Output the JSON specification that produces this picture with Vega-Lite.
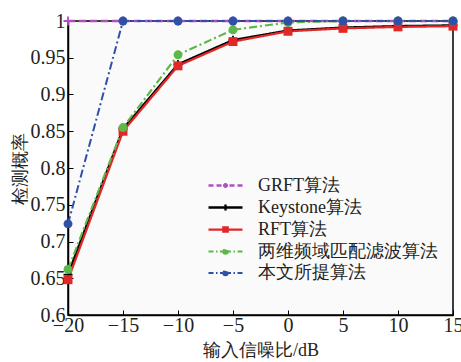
{
  "$schema": "https://vega.github.io/schema/vega-lite/v6.json",
  "width": 385,
  "height": 294,
  "autosize": "none",
  "padding": {"left": 68, "top": 21, "right": 8, "bottom": 47},
  "background": "white",
  "config": {
    "font": "Liberation Serif",
    "view": {"stroke": "black", "strokeWidth": 1.5, "fill": "#fafafa"},
    "axis": {
      "domainColor": "black", "domainWidth": 1.5, "tickColor": "black", "tickSize": -5,
      "labelFont": "Liberation Serif", "labelFontSize": 20, "labelColor": "#222", "labelFlush": false,
      "titleFont": "Liberation Serif", "titleFontSize": 18, "titleFontWeight": "normal", "titleColor": "#222",
      "grid": false
    }
  },
  "data": {"values": [
    {"snr": -20, "p": 1, "s": "GRFT算法"}, {"snr": -15, "p": 1, "s": "GRFT算法"}, {"snr": -10, "p": 1, "s": "GRFT算法"}, {"snr": -5, "p": 1, "s": "GRFT算法"},
    {"snr": 0, "p": 1, "s": "GRFT算法"}, {"snr": 5, "p": 1, "s": "GRFT算法"}, {"snr": 10, "p": 1, "s": "GRFT算法"}, {"snr": 15, "p": 1, "s": "GRFT算法"},
    {"snr": -20, "p": 0.655, "s": "Keystone算法"}, {"snr": -15, "p": 0.853, "s": "Keystone算法"}, {"snr": -10, "p": 0.941, "s": "Keystone算法"}, {"snr": -5, "p": 0.974, "s": "Keystone算法"},
    {"snr": 0, "p": 0.987, "s": "Keystone算法"}, {"snr": 5, "p": 0.991, "s": "Keystone算法"}, {"snr": 10, "p": 0.993, "s": "Keystone算法"}, {"snr": 15, "p": 0.994, "s": "Keystone算法"},
    {"snr": -20, "p": 0.648, "s": "RFT算法"}, {"snr": -15, "p": 0.85, "s": "RFT算法"}, {"snr": -10, "p": 0.939, "s": "RFT算法"}, {"snr": -5, "p": 0.972, "s": "RFT算法"},
    {"snr": 0, "p": 0.986, "s": "RFT算法"}, {"snr": 5, "p": 0.99, "s": "RFT算法"}, {"snr": 10, "p": 0.992, "s": "RFT算法"}, {"snr": 15, "p": 0.993, "s": "RFT算法"},
    {"snr": -20, "p": 0.662, "s": "两维频域匹配滤波算法"}, {"snr": -15, "p": 0.855, "s": "两维频域匹配滤波算法"}, {"snr": -10, "p": 0.954, "s": "两维频域匹配滤波算法"}, {"snr": -5, "p": 0.988, "s": "两维频域匹配滤波算法"},
    {"snr": 0, "p": 0.998, "s": "两维频域匹配滤波算法"}, {"snr": 5, "p": 1, "s": "两维频域匹配滤波算法"}, {"snr": 10, "p": 1, "s": "两维频域匹配滤波算法"}, {"snr": 15, "p": 1, "s": "两维频域匹配滤波算法"},
    {"snr": -20, "p": 0.724, "s": "本文所提算法"}, {"snr": -15, "p": 1, "s": "本文所提算法"}, {"snr": -10, "p": 1, "s": "本文所提算法"}, {"snr": -5, "p": 1, "s": "本文所提算法"},
    {"snr": 0, "p": 1, "s": "本文所提算法"}, {"snr": 5, "p": 1, "s": "本文所提算法"}, {"snr": 10, "p": 1, "s": "本文所提算法"}, {"snr": 15, "p": 1, "s": "本文所提算法"}
  ]},
  "encoding": {
    "x": {"field": "snr", "type": "quantitative", "title": "输入信噪比/dB",
          "scale": {"domain": [-20, 15], "nice": false, "zero": false},
          "axis": {"values": [-20, -15, -10, -5, 0, 5, 10, 15], "labelPadding": 5, "titlePadding": 6}},
    "y": {"field": "p", "type": "quantitative", "title": "检测概率",
          "scale": {"domain": [0.6, 1], "nice": false, "zero": false},
          "axis": {"values": [0.6, 0.65, 0.7, 0.75, 0.8, 0.85, 0.9, 0.95, 1], "format": ".2~f", "labelPadding": 8, "titlePadding": 1}},
    "color": {"field": "s", "type": "nominal", "title": null,
              "scale": {"domain": ["GRFT算法", "Keystone算法", "RFT算法", "两维频域匹配滤波算法", "本文所提算法"],
                        "range": ["#b050c0", "#000000", "#e02828", "#5cb848", "#3050a8"]},
              "legend": {
                "orient": "none", "legendX": 146, "legendY": 153,
                "labelFont": "Liberation Serif", "labelFontSize": 18, "labelColor": "#222", "labelLimit": 400,
                "symbolSize": 400, "symbolStrokeWidth": 2.5, "rowPadding": 1, "labelOffset": 21,
                "encode": {"symbols": {"update": {
                  "shape": {"signal": "datum.value == 'GRFT算法' ? 'M-1.7,0H-1.2M-0.9,0H-0.4M-0.25,0H0.25M0,-0.25V0.25M0.4,0H0.9M1.2,0H1.7' : datum.value == 'Keystone算法' ? 'M-1.7,0H1.7M0,-0.3V0.3' : datum.value == 'RFT算法' ? 'M-1.7,0H1.7M-0.22,-0.22H0.22V0.22H-0.22Z' : 'M-1.7,0H-1.2M-0.95,0H-0.8M-0.55,0H-0.22M-0.22,0A0.22,0.22,0,1,0,0.22,0A0.22,0.22,0,1,0,-0.22,0M0.22,0H0.55M0.8,0H0.95M1.2,0H1.7'"},
                  "stroke": {"scale": "color", "field": "value"},
                  "fill": {"scale": "color", "field": "value"},
                  "strokeDash": {"value": []},
                  "opacity": {"value": 1}
                }}}
              }}
  },
  "layer": [
    {
      "mark": {"type": "line"},
      "encoding": {
        "strokeDash": {"field": "s", "type": "nominal", "legend": null,
          "scale": {"domain": ["GRFT算法", "Keystone算法", "RFT算法", "两维频域匹配滤波算法", "本文所提算法"],
                    "range": [[7, 4], [1, 0], [1, 0], [8, 3, 2, 3], [8, 3, 2, 3]]}},
        "strokeWidth": {"field": "s", "type": "nominal", "legend": null,
          "scale": {"domain": ["GRFT算法", "Keystone算法", "RFT算法", "两维频域匹配滤波算法", "本文所提算法"], "range": [2.5, 2, 3.5, 3, 3]}}
      }
    },
    {
      "transform": [{"filter": "datum.s == 'GRFT算法' || datum.s == 'Keystone算法'"}],
      "mark": {"type": "point", "filled": false, "size": 80, "strokeWidth": 1.8, "opacity": 1, "shape": "M-1,0H1M0,-1V1"}
    },
    {
      "transform": [{"filter": "datum.s != 'GRFT算法' && datum.s != 'Keystone算法'"}],
      "mark": {"type": "point", "filled": true, "size": 80, "opacity": 1},
      "encoding": {
        "shape": {"field": "s", "type": "nominal", "legend": null,
          "scale": {"domain": ["RFT算法", "两维频域匹配滤波算法", "本文所提算法"], "range": ["square", "circle", "circle"]}}
      }
    }
  ]
}
